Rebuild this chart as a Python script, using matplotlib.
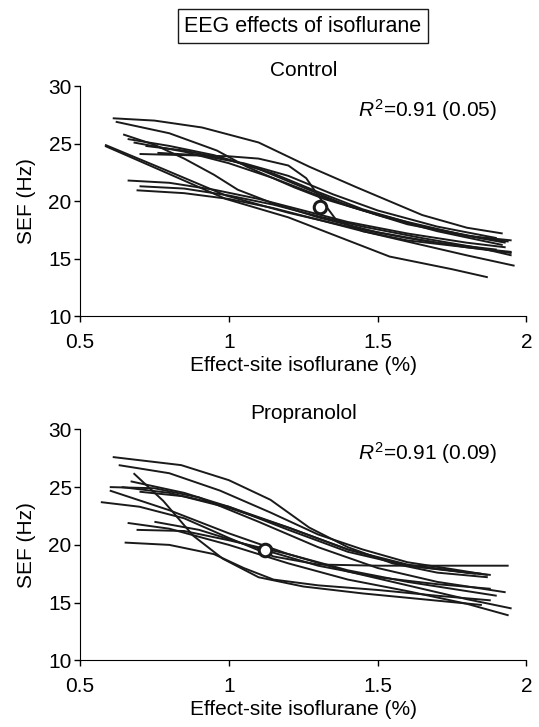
import matplotlib
matplotlib.use("Agg")
import matplotlib.pyplot as plt

plt.rcParams['font.family'] = ['Liberation Sans', 'DejaVu Sans']
plt.rcParams['mathtext.fontset'] = 'custom'
plt.rcParams['mathtext.rm'] = 'Liberation Sans'
plt.rcParams['mathtext.it'] = 'Liberation Sans:italic'

# Control: one list of x and y points per subject
ctrl_x = [
    [0.61, 0.75, 0.91, 1.10, 1.27, 1.43, 1.65, 1.80, 1.92],
    [0.62, 0.80, 0.96, 1.06, 1.22, 1.32, 1.45, 1.60, 1.80, 1.93],
    [0.70, 0.85, 1.00, 1.10, 1.20, 1.26, 1.30, 1.36, 1.45, 1.60, 1.80, 1.95],
    [0.645, 0.75, 0.85, 0.95, 1.03, 1.15, 1.30, 1.50, 1.70, 1.90],
    [0.584, 0.77, 0.99, 1.20, 1.40, 1.54, 1.75, 1.87],
    [0.584, 0.77, 0.99, 1.20, 1.40, 1.60, 1.80, 1.95],
    [0.66, 0.80, 0.95, 1.10, 1.25, 1.40, 1.60, 1.80, 1.95],
    [0.72, 0.85, 1.00, 1.15, 1.30, 1.45, 1.65, 1.85, 1.94],
    [0.76, 0.90, 1.05, 1.20, 1.35, 1.50, 1.70, 1.90],
    [0.68, 0.85, 1.00, 1.15, 1.30, 1.50, 1.70, 1.92],
    [0.66, 0.80, 0.95, 1.10, 1.25, 1.40, 1.60, 1.80, 1.93],
    [0.70, 0.85, 1.00, 1.15, 1.30, 1.45, 1.65, 1.85, 1.95],
    [0.69, 0.85, 1.00, 1.15, 1.30, 1.45, 1.65, 1.80, 1.96],
]
ctrl_y = [
    [27.2, 27.0, 26.4, 25.1, 23.0, 21.2, 18.8, 17.7, 17.2],
    [26.9, 25.9, 24.4, 23.0, 21.2, 20.2, 19.2, 18.2, 17.0, 16.4],
    [24.1, 24.0, 23.9, 23.7, 23.1, 22.0, 20.5, 18.4, 17.4, 16.6, 16.0, 15.6],
    [25.8, 24.9, 23.7, 22.3, 21.0, 19.8, 18.6, 17.3, 16.4, 15.8],
    [24.8, 22.7, 20.2, 18.6, 16.6, 15.2, 14.1, 13.4],
    [24.9, 22.9, 20.5, 19.0, 17.8, 16.8, 16.0, 15.5],
    [25.4, 24.8, 24.0, 22.8, 21.2, 19.6, 18.0, 17.0, 16.6],
    [24.8, 24.4, 23.6, 22.4, 20.8, 19.3, 17.8, 16.8, 16.5],
    [24.2, 24.0, 23.3, 22.2, 20.6, 19.2, 17.8, 16.8],
    [25.1, 24.3, 23.3, 22.0, 20.5, 18.8, 17.4, 16.2],
    [21.8, 21.6, 21.0, 20.2, 19.2, 18.2, 17.2, 16.4, 16.0],
    [21.3, 21.1, 20.5, 19.7, 18.7, 17.8, 16.8, 15.9, 15.3],
    [20.95, 20.7, 20.2, 19.4, 18.4, 17.4, 16.2, 15.3, 14.4],
]

# Propranolol
prop_x = [
    [0.61, 0.84, 1.00, 1.14, 1.27, 1.40, 1.55, 1.70, 1.87],
    [0.63, 0.80, 0.97, 1.14, 1.30, 1.45, 1.60, 1.75, 1.87],
    [0.68, 0.78, 0.88, 0.98, 1.10, 1.25, 1.45, 1.65, 1.85],
    [0.65, 0.80, 0.95, 1.05, 1.15, 1.30, 1.50, 1.70, 1.88],
    [0.57, 0.70, 0.85, 1.00, 1.15, 1.30, 1.50, 1.70, 1.94],
    [0.64, 0.80, 1.00, 1.20, 1.40, 1.60, 1.80, 1.88],
    [0.67, 0.85, 1.00, 1.20, 1.40, 1.60, 1.85],
    [0.70, 0.85, 1.00, 1.20, 1.40, 1.60, 1.83],
    [0.60, 0.80, 1.00, 1.20, 1.40, 1.60, 1.80, 1.95],
    [0.66, 0.80, 1.00, 1.20, 1.40, 1.60, 1.80, 1.94],
    [0.69, 0.85, 1.00, 1.20, 1.40, 1.60, 1.80, 1.90],
    [0.60, 0.75, 0.90, 1.10, 1.30, 1.50, 1.70, 1.93],
    [0.75, 0.90, 1.10, 1.30, 1.50, 1.70, 1.88],
]
prop_y = [
    [27.6, 26.9, 25.6, 23.9, 21.5, 19.8, 18.4, 17.6, 17.2],
    [26.9, 26.2, 24.7, 22.8, 20.9, 19.6, 18.5, 17.9, 17.4],
    [26.2, 23.8, 20.8, 18.8, 17.2, 16.4, 15.8, 15.3, 14.8],
    [20.2, 20.0, 19.2, 18.0, 17.0, 16.5, 16.1, 15.6, 15.2],
    [23.7, 23.3, 22.3, 20.6, 19.0, 18.3, 18.2, 18.2, 18.2],
    [25.0, 24.5, 23.2, 21.5, 19.6, 18.3, 17.6, 17.4],
    [25.5, 24.5, 23.3, 21.3, 19.4, 18.2, 17.5],
    [24.6, 24.2, 23.3, 21.5, 19.6, 18.2, 17.5],
    [24.7, 23.0, 21.0, 19.2, 17.7, 16.5, 15.3, 14.5],
    [21.9, 21.4, 20.0, 18.4, 17.0, 16.0, 14.9, 13.9],
    [21.3, 21.2, 20.4, 19.2, 17.8, 16.8, 16.0, 15.6],
    [25.0, 24.9, 24.1, 22.0, 19.8, 18.0, 16.8, 15.9],
    [22.0, 21.3, 19.7, 18.2, 17.2, 16.6, 16.2],
]

# group mean (open circle)
ctrl_mean = (1.305, 19.5)
prop_mean = (1.12, 19.6)

titles = ['Control', 'Propranolol']
r2_text = [r'$\it{R}^2$=0.91 (0.05)', r'$\it{R}^2$=0.91 (0.09)']
xticks = [0.5, 1, 1.5, 2]
xticklabels = ['0.5', '1', '1.5', '2']
yticks = [10, 15, 20, 25, 30]

fs = 15

fig = plt.figure(figsize=(5.39, 7.27), dpi=100)
ax1 = fig.add_axes([0.1484, 0.5647, 0.8284, 0.3170])
ax2 = fig.add_axes([0.1484, 0.0915, 0.8284, 0.3180])

panels = [(ax1, ctrl_x, ctrl_y, ctrl_mean), (ax2, prop_x, prop_y, prop_mean)]
for i, (ax, xs, ys, mean) in enumerate(panels):
    for x, y in zip(xs, ys):
        ax.plot(x, y, color='#1a1a1a', lw=1.4, solid_capstyle='butt')
    ax.plot([mean[0]], [mean[1]], 'o', ms=9, mfc='white', mec='#1a1a1a', mew=2.2, zorder=5)
    ax.set_xlim(0.5, 2)
    ax.set_ylim(10, 30)
    ax.set_xticks(xticks)
    ax.set_xticklabels(xticklabels)
    ax.set_yticks(yticks)
    ax.spines['top'].set_visible(False)
    ax.spines['right'].set_visible(False)
    ax.tick_params(direction='out', length=4, width=1, labelsize=fs, pad=2)
    ax.tick_params(axis='x', pad=8)
    ax.set_xlabel('Effect-site isoflurane (%)', fontsize=fs, labelpad=3)
    ax.set_ylabel('SEF (Hz)', fontsize=fs, labelpad=9)
    ax.text(0.5, 1.069, titles[i], transform=ax.transAxes, ha='center', va='center', fontsize=fs)
    ax.text(0.933, 0.896, r2_text[i], transform=ax.transAxes, ha='right', va='center', fontsize=fs)

fig.text(0.562, 0.964, 'EEG effects of isoflurane', ha='center', va='center', fontsize=15.5,
         bbox=dict(boxstyle='square,pad=0.3', fc='white', ec='#1a1a1a', lw=1))

fig.savefig('out.png', dpi=100)
